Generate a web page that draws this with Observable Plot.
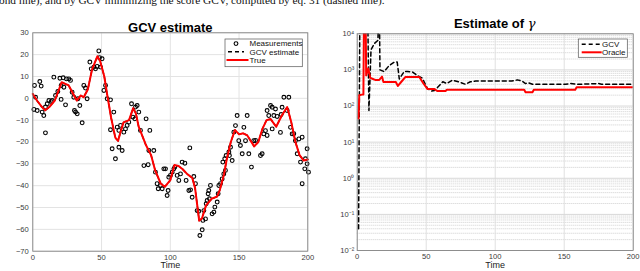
<!DOCTYPE html>
<html><head><meta charset="utf-8">
<script src="https://cdn.jsdelivr.net/npm/d3@7"></script>
<script src="https://cdn.jsdelivr.net/npm/@observablehq/plot@0.6"></script>
<style>
html,body{margin:0;padding:0;background:#fff}
body{width:640px;height:271px;overflow:hidden;position:relative;font-family:"Liberation Sans",Arial,sans-serif}
#cap{position:absolute;z-index:5;left:-1px;top:-6px;font:11.3px/13px "Liberation Serif","Times New Roman",serif;white-space:nowrap;color:#111}
.panel{position:absolute;top:0;z-index:1}
</style></head><body>
<div id="left" class="panel" style="left:0"></div>
<div id="right" class="panel" style="left:320px"></div>
<div id="cap">ond line), and by GCV minimizing the score GCV, computed by eq. 31 (dashed line).</div>
<script>
// ---------- Left panel data ----------
const trueT = [0,3,6,9,12,16,19,21,24,26,30,32,35,37,40,43,47,49,52,54,57,60,62,64,66,70,73,75,77,82,86,89,93,96,100,103,106,109,112,116,118,121,123,126,130,134,136,139,141,144,147,150,153,156,161,164,167,170,173,177,181,185,188,191,194,197,200];
const trueV = [2,-1,-3.5,-5.5,-4,-1,4,7.4,6.5,6,1.3,-1,1.3,0.5,4,13,19.3,17,10,2,-9,-18,-19.5,-15,-11,-10,-4.5,-7,-13,-21,-26,-33,-39,-40.5,-37.5,-30.5,-31,-32.5,-34.5,-36.5,-41,-56,-55,-49,-46,-45,-42,-35,-28,-20,-14.5,-16.5,-16,-17,-22,-20,-14,-10,-9.5,-13,-8,-4,-11,-20,-26,-28.5,-28];
// GCV estimate (lies under the true curve)
const gcvEstT = trueT;
const gcvEstV = trueV;
const measT = [0.8,1.2,2,3.2,5.1,6.1,6.8,8,9.2,9.2,10.5,11.7,13.4,14.1,15.3,16.5,18.2,19.7,20.6,20.6,22.1,22.6,23.8,24.5,26.2,27.4,28.6,29.8,30.3,31.1,32.3,32.8,34.2,35.9,37.1,38.3,39.5,41.5,42.5,44.4,45.6,46.8,48,48.5,49.2,50.4,51.7,52.9,54.1,56.5,56.5,57.7,58.9,60.1,61.4,62.6,62.6,63.8,65,66.2,67.4,68.6,69.8,71.8,72.8,74.2,74.7,75.9,77.1,78.3,80.8,82.4,83.9,84.4,85.1,88,89.2,90.4,91.2,92.9,94.1,95.3,96.5,97.7,98.4,98.9,100.1,101.4,102.6,103.3,105,106.2,107.4,108.6,110.6,111.5,113.5,114.2,114.7,115.9,117.1,118.3,119.5,120.7,121.5,123.2,123.7,124.4,125.6,126.1,126.8,127.5,128,128.5,129.2,130.4,131.7,132.4,134.1,134.8,135.3,136.5,137.7,138.2,138.9,139.6,140.1,140.6,142.6,143,143.8,145,146.2,147.4,148.6,149.8,151,152.3,153.5,154.7,155.9,157.1,159,160.7,162,165.6,166.8,168,169.2,170.4,170.4,171.6,172.9,174.1,174.1,175.3,176.5,177.7,180.1,180.6,181.3,182.6,185,186.2,187.4,188.6,189.8,191,192.3,193.5,194.7,195.9,195.9,197.8,198.3,199.5,199.5,200.5];
const measV = [-5.1,5.9,0.5,-5.6,7.7,5.6,-6.3,-7.9,-15.8,-4,-2.5,-1,-1.5,-1,9.7,1.3,3.1,9.2,5.9,-0.5,9.4,5.1,-3,8.9,8.9,8.2,2.8,0.5,-5.6,-6.3,-7.1,-0.2,-3.3,-11.2,5.9,4.7,-0.2,16.6,13.5,14.3,13.5,14.6,21.7,18.6,14.3,18.1,3.6,5.9,-0.2,-0.7,-14.4,-23.1,-6.3,-27.7,-13.2,-14.7,-22.4,-12.4,-23.9,-15.5,-14,-12.4,-10.9,-2.5,-8.6,-9.4,-4,-3.3,-6.3,-14.7,-30.8,-9.4,-30.4,-23.9,-14.7,-23.9,-33.8,-39.1,-41.4,-39.9,-41.4,-32.3,-32.3,-44.5,-42.2,-36.1,-35.3,-33.8,-32.3,-31.5,-35.3,-37.6,-34.6,-29.2,-29.7,-37.6,-42.2,-22.7,-41.9,-45.3,-35.8,-39.1,-51.4,-51.7,-62.8,-60.2,-55.9,-51.4,-55.2,-48.3,-46.8,-43.7,-42.2,-46,-39.9,-52.9,-52.1,-49.8,-47.5,-43.7,-39.9,-39.1,-36.9,-29.2,-34.6,-27.7,-33,-26.2,-24.6,-26.2,-22.4,-28.5,-15.5,-12.5,-7.9,-19.4,-21.6,-25.4,-13.3,-19.4,-7.9,-25.4,-31.5,-19.4,-19.3,-26.2,-25.4,-16.3,-14.8,-5.6,-17,-7.9,-3.3,-4.1,-14,-7.9,-4.9,-8.3,-15.6,-7.4,-4.1,0.5,-5.6,0.5,-13.3,-16.3,-16.2,-19.4,-25.4,-18.6,-29.2,-39.1,-17.8,-32.3,-27.7,-23.1,-30,-33.8];
const leftXTicks = [0,50,100,150,200];
const leftYTicks = [30,20,10,0,-10,-20,-30,-40,-50,-60,-70];

// ---------- Right panel data ----------
const gcvT = [1,2,7.5,8.5,10,12.5,15,16,16.5,19.5,23,27,29,30.5,34,36.5,40,43.5,47,48.5,51,54,56,58,62,65,69,74,78.5,82,86,112,116,119.5,122,124,127,151,154.5,160,175,177,200];
const gcvV = [0.04,1e5,1e5,75,3600,5400,6600,1e5,1000,900,1300,1650,1650,560,900,900,880,700,600,470,300,260,270,320,470,420,520,460,400,470,490,490,530,490,420,440,400,400,420,400,420,400,400];
const oracleT = [1,1.5,4,4.5,5,6,6.5,8,9.5,11,13,16,18,19,28,29.5,32,35,45,48,51,56,58,64,65,121,122,127,128,158,159,200];
const oracleV = [45,200,210,210,1e5,1e5,700,1100,600,570,530,530,650,460,460,360,470,640,640,420,295,295,260,260,282,282,240,240,282,282,330,330];
const rightXTicks = [0,50,100,150,200];
const rightYTicks = [1e-2,1e-1,1e0,1e1,1e2,1e3,1e4];
const rightYLabels = ["10⁻²","10⁻¹","10⁰","10¹","10²","10³","10⁴"];

const FONT = "Liberation Sans, Arial, Helvetica, sans-serif";
const zip = (a,b) => a.map((t,i)=>({t, v:b[i]}));

// ---------- Left plot ----------
const leftPlot = Plot.plot({
  width: 320, height: 271,
  marginLeft: 32.3, marginRight: 12.7, marginTop: 32.3, marginBottom: 20.3,
  style: {fontFamily: FONT, fontSize: "7.6px", color: "#3a3a3a", background: "white", overflow: "visible"},
  x: {domain: [0,200], label: null},
  y: {domain: [-70,30], label: null},
  marks: [
    Plot.gridX(leftXTicks, {stroke: "#e3e3e3", strokeOpacity: 1}),
    Plot.gridY(leftYTicks, {stroke: "#e3e3e3", strokeOpacity: 1}),
    Plot.axisX(leftXTicks, {tickSize: 0, tickPadding: 3, fill: "#3a3a3a"}),
    Plot.axisY(leftYTicks, {tickSize: 0, tickPadding: 4, fill: "#3a3a3a"}),
    Plot.dot(zip(measT, measV), {x: "t", y: "v", r: 1.9, stroke: "black", strokeWidth: 1.1, fill: "none"}),
    Plot.line(zip(gcvEstT, gcvEstV), {x: "t", y: "v", stroke: "black", strokeWidth: 1.4, strokeDasharray: "4,3"}),
    Plot.line(zip(trueT, trueV), {x: "t", y: "v", stroke: "#ff0000", strokeWidth: 2}),
    Plot.frame({stroke: "#7a7a7a", strokeWidth: 0.8}),
    Plot.text(["Time"], {frameAnchor: "bottom", dy: 17.2, fontSize: 9, fill: "#222"}),
    Plot.text(["GCV estimate"], {frameAnchor: "top", dy: -9.8, fontSize: 13, fontWeight: "bold", fill: "#000"})
  ]
});
document.getElementById("left").appendChild(leftPlot);

// left legend
{
  const s = d3.select(leftPlot);
  const g = s.append("g").attr("font-family", FONT).attr("font-size", 8).attr("text-anchor", "start");
  g.append("rect").attr("x", 225).attr("y", 39).attr("width", 77.3).attr("height", 27.7)
    .attr("fill", "white").attr("stroke", "#555").attr("stroke-width", 0.7);
  g.append("circle").attr("cx", 236).attr("cy", 43.6).attr("r", 1.9).attr("fill", "none").attr("stroke", "black").attr("stroke-width", 1.1);
  g.append("line").attr("x1", 228).attr("x2", 244).attr("y1", 51.8).attr("y2", 51.8).attr("stroke", "black").attr("stroke-width", 1.4).attr("stroke-dasharray", "4,3");
  g.append("line").attr("x1", 226.5).attr("x2", 248.5).attr("y1", 60).attr("y2", 60).attr("stroke", "#ff0000").attr("stroke-width", 2);
  const labels = ["Measurements", "GCV estimate", "True"];
  const ys = [43.6, 51.8, 60];
  labels.forEach((l,i) => g.append("text").attr("x", 249.5).attr("y", ys[i]).attr("dy", "0.35em").attr("text-anchor", "start").attr("fill", "#111").text(l));
}

// ---------- Right plot ----------
const minorTicks = [];
for (let k = -2; k < 4; k++) for (let m = 2; m <= 9; m++) minorTicks.push(m * Math.pow(10, k));

const rightPlot = Plot.plot({
  width: 320, height: 271,
  marginLeft: 36.7, marginRight: 7.3, marginTop: 33.3, marginBottom: 21,
  style: {fontFamily: FONT, fontSize: "7.6px", color: "#3a3a3a", background: "white", overflow: "visible"},
  x: {domain: [0,200], label: null},
  y: {type: "log", domain: [1e-2, 1e4], label: null},
  marks: [
    Plot.gridY(minorTicks, {stroke: "#c4c4c4", strokeOpacity: 1, strokeDasharray: "1,1", strokeWidth: 0.8}),
    Plot.gridX(rightXTicks, {stroke: "#e0e0e0", strokeOpacity: 1}),
    Plot.gridY(rightYTicks, {stroke: "#d8d8d8", strokeOpacity: 1}),
    Plot.axisX(rightXTicks, {tickSize: 0, tickPadding: 3, fill: "#3a3a3a"}),
    Plot.axisY(rightYTicks, {tickSize: 0, tickPadding: 3, fill: "#3a3a3a", tickFormat: (d) => rightYLabels[rightYTicks.indexOf(d)]}),
    Plot.line(zip(gcvT, gcvV), {x: "t", y: "v", stroke: "black", strokeWidth: 1.5, strokeDasharray: "4,3", clip: true}),
    Plot.line(zip(oracleT, oracleV), {x: "t", y: "v", stroke: "#ff0000", strokeWidth: 2, clip: true}),
    Plot.frame({stroke: "#7a7a7a", strokeWidth: 0.8}),
    Plot.text(["Time"], {frameAnchor: "bottom", dy: 17.2, fontSize: 9, fill: "#222"})
  ]
});
document.getElementById("right").appendChild(rightPlot);

// right title and legend
{
  const s = d3.select(rightPlot);
  const t = s.append("text").attr("x", (36.7 + 312.7) / 2).attr("y", 23).attr("dy", "0.35em")
    .attr("text-anchor", "middle").attr("font-family", FONT).attr("font-size", 13).attr("font-weight", "bold").attr("fill", "#000");
  t.append("tspan").attr("fill", "#000").text("Estimate of ");
  t.append("tspan").attr("fill", "#000").attr("font-family", "DejaVu Serif, Liberation Serif, serif").attr("font-weight", "normal").attr("font-style", "italic").text("γ");
  const g = s.append("g").attr("font-family", FONT).attr("font-size", 8).attr("text-anchor", "start");
  g.append("rect").attr("x", 258.3).attr("y", 39).attr("width", 49).attr("height", 18.3)
    .attr("fill", "white").attr("stroke", "#555").attr("stroke-width", 0.7);
  g.append("line").attr("x1", 261.7).attr("x2", 280).attr("y1", 44.3).attr("y2", 44.3).attr("stroke", "black").attr("stroke-width", 1.5).attr("stroke-dasharray", "4,3");
  g.append("line").attr("x1", 261.7).attr("x2", 281.7).attr("y1", 52.3).attr("y2", 52.3).attr("stroke", "#ff0000").attr("stroke-width", 2);
  ["GCV", "Oracle"].forEach((l,i) => g.append("text").attr("x", 282).attr("y", [44.3, 52.3][i]).attr("dy", "0.35em").attr("text-anchor", "start").attr("fill", "#111").text(l));
}
</script>
</body></html>
